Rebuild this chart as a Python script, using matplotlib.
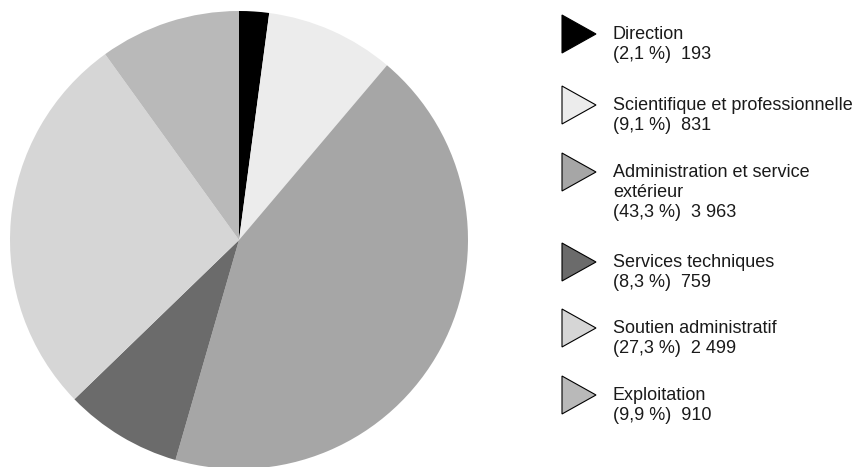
import matplotlib
matplotlib.use('Agg')
import matplotlib.pyplot as plt
from matplotlib.patches import Polygon

# categories and values
labels = ['Direction', 'Scientifique et professionnelle', 'Administration et service\nextérieur',
          'Services techniques', 'Soutien administratif', 'Exploitation']
counts = [193, 831, 3963, 759, 2499, 910]
pcts = ['2,1', '9,1', '43,3', '8,3', '27,3', '9,9']
count_text = ['193', '831', '3 963', '759', '2 499', '910']
colors = ['#000000', '#ececec', '#a6a6a6', '#6b6b6b', '#d6d6d6', '#b9b9b9']

W, H = 859, 467
fig = plt.figure(figsize=(W / 100, H / 100), dpi=100)
plt.rcParams['font.family'] = ['Liberation Sans', 'DejaVu Sans']

# pie axes: centre (239, 240), radius 229 px
cx, cy, r = 239, 240, 229
ax = fig.add_axes([(cx - r) / W, (H - cy - r) / H, 2 * r / W, 2 * r / H])
ax.pie(counts, colors=colors, startangle=90, counterclock=False,
       wedgeprops=dict(linewidth=0))
ax.set_xlim(-1, 1)
ax.set_ylim(-1, 1)
ax.set_aspect('equal')
ax.axis('off')

# legend with right-pointing triangles; first text line centred on the triangle
tri_y = [34, 105, 172, 262, 328, 395]
line_step = 20
for i in range(len(labels)):
    ty = tri_y[i]
    pts = [(562 / W, (H - ty + 19) / H), (562 / W, (H - ty - 19) / H), (596 / W, (H - ty) / H)]
    fig.patches.append(Polygon(pts, closed=True, facecolor=colors[i], edgecolor='black',
                               linewidth=0.8, transform=fig.transFigure))
    lines = labels[i].split('\n') + ['(' + pcts[i] + ' %)  ' + count_text[i]]
    for k, line in enumerate(lines):
        # baseline sits ~5 px below the line centre
        fig.text(613 / W, (H - ty - 5 - k * line_step) / H, line, fontsize=13,
                 va='baseline', ha='left', color='#1a1a1a')

fig.savefig('out.png', dpi=100)
